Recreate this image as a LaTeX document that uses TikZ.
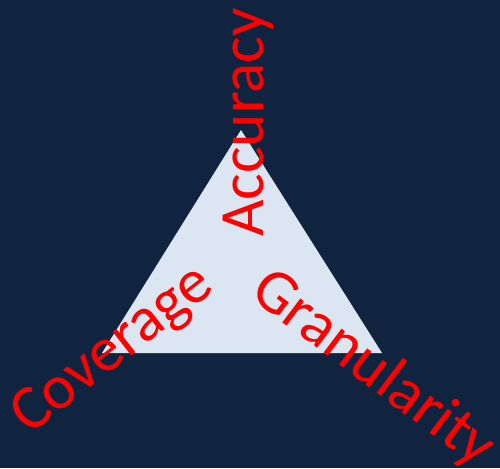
\documentclass[tikz,border=0pt]{standalone}
\usepackage{fontspec}
\setmainfont{Carlito}
\usepackage{tikz}

\definecolor{navy}{HTML}{10243F}
\definecolor{paleblue}{HTML}{DCE6F2}

\begin{document}
\begin{tikzpicture}[x=1pt, y=-1pt,
    label text/.style={text=red, inner sep=0pt, font=\fontsize{63}{63}\selectfont}]
      % background
      \fill[navy] (0,0) rectangle (500,468);
      \useasboundingbox (0,0) rectangle (500,468);
      % triangle corners
      \coordinate (apex) at (241,130);
      \coordinate (left) at (102,353);
      \coordinate (right) at (382,353);
      \fill[paleblue] (apex) -- (left) -- (right) -- cycle;
      % labels
      \node[label text, anchor=base west, rotate=90] (accuracy) at (263,237) {Accuracy};
      \node[label text, anchor=base west, rotate=38] (coverage) at (29,436) {Coverage};
      \node[label text, anchor=base west, rotate=-37] (granularity) at (248,296) {Granularity};
    \end{tikzpicture}
\end{document}
